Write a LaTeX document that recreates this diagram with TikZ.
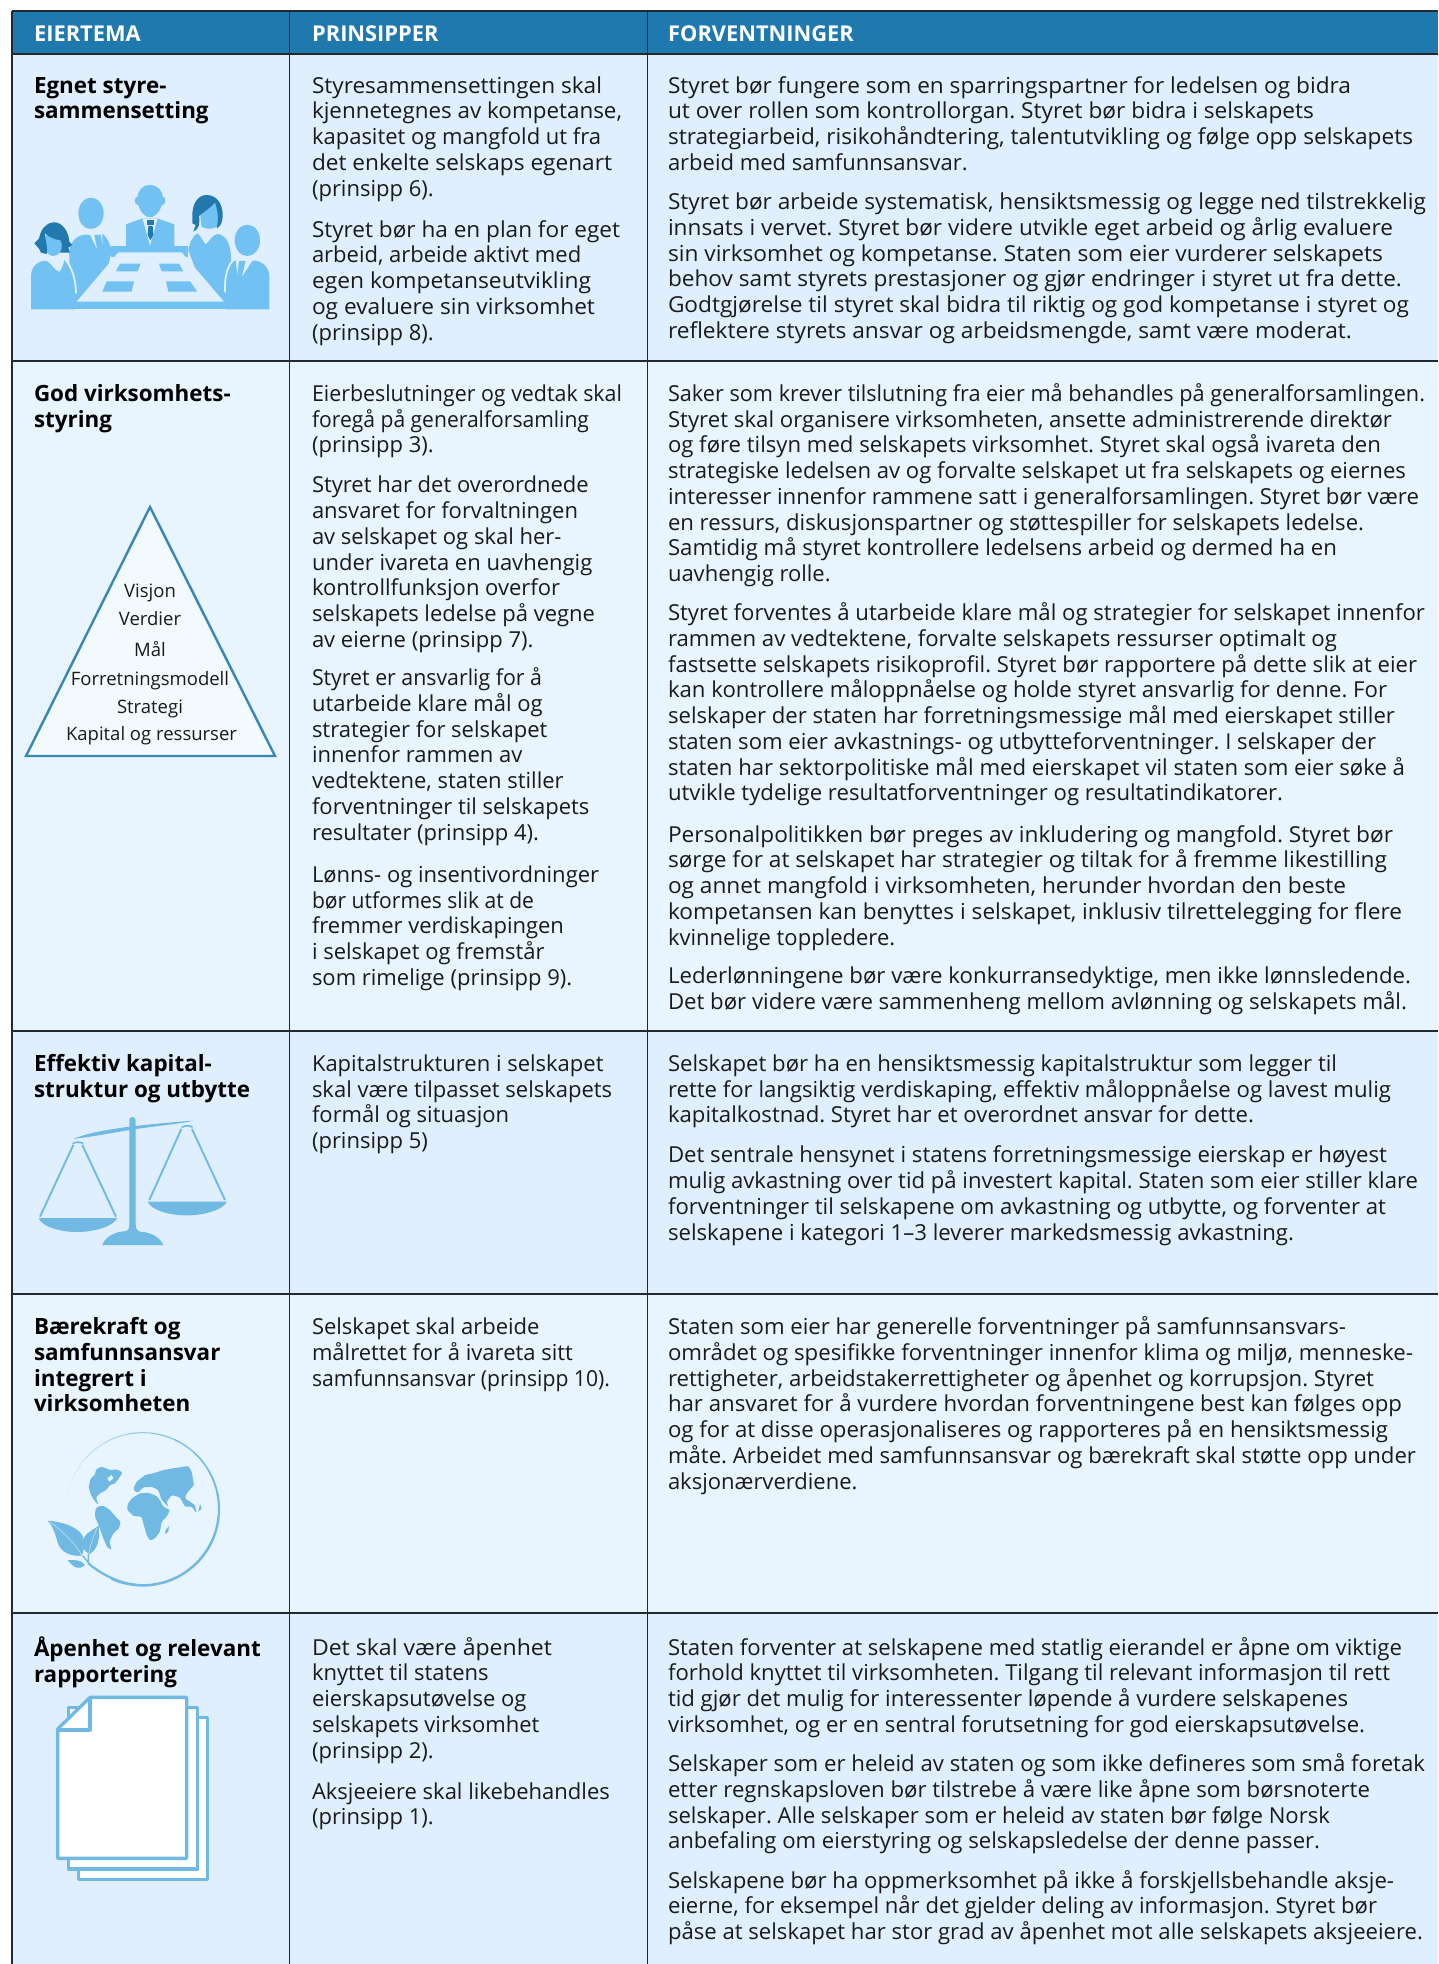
\documentclass[tikz,border=0pt]{standalone}
\usepackage{fontspec}
\setmainfont{Open Sans}
\frenchspacing
\definecolor{bgA}{HTML}{DFEFFD}
\definecolor{bgB}{HTML}{E8F5FE}
\definecolor{headblue}{HTML}{2079AE}
\definecolor{iconA}{HTML}{71C1F2}
\definecolor{iconB}{HTML}{6FB9E3}
\definecolor{icondark}{HTML}{2279AE}
\definecolor{tline}{HTML}{222A30}
\definecolor{inktext}{HTML}{1A1A1A}
\tikzset{
  body/.style={anchor=north west,inner sep=0pt,outer sep=0pt,align=left,text=inktext,font=\fontsize{22}{25.75}\selectfont\frenchspacing},
  lead/.style={body,font=\fontsize{22.4}{25.75}\selectfont\bfseries\frenchspacing,text=black},
  headtxt/.style={anchor=west,inner sep=0pt,text=white,font=\fontsize{21.8}{24}\selectfont\bfseries},
  pyr/.style={anchor=center,inner sep=0pt,text=inktext,font=\fontsize{18.5}{20}\selectfont},
  rule/.style={draw=tline,line width=1.4pt},
  zoomed/.style={x=0.33333pt,y=-0.33333pt},
  docpage/.style={draw=iconB,line width=3.3pt,fill=white,line join=round}
}
\newcommand{\pp}[5][body]{\node[#1] (#2) at ({#3},{(#4)*1.2526-10}) {\rule{0pt}{18pt}#5};}
\newcommand{\pyrt}[3]{\node[pyr] (#1) at (150,#2+1) {#3};}
% one line of the third / second column, fitted so that it ends at the given x
\newcommand{\fl}[2]{\resizebox{\dimexpr#1pt-668pt\relax}{\height}{#2}}
\newcommand{\fm}[2]{\resizebox{\dimexpr#1pt-312pt\relax}{\height}{#2}}
\begin{document}
\begin{tikzpicture}[x=1pt,y=-1pt]
\useasboundingbox (0,0) rectangle (1438,1964);
% backgrounds
\fill[white] (0,0) rectangle (1438,1964);
\fill[headblue] (12,11) rectangle (1438,54);
\fill[bgA] (12,54) rectangle (1438,361);
\fill[bgB] (12,361) rectangle (1438,1031);
\fill[bgA] (12,1031) rectangle (1438,1294);
\fill[bgB] (12,1294) rectangle (1438,1613);
\fill[bgA] (12,1613) rectangle (1438,1964);
% rules
\foreach \yy in {11,54,361,1031,1294,1613}{\draw[rule] (12,\yy) -- (1438,\yy);}
\foreach \xx in {12,289.5,647.5}{\draw[rule] (\xx,11) -- (\xx,1964);}
% header
\node[headtxt] (h1) at (34,34) {EIERTEMA};
\node[headtxt] (h2) at (312,34) {PRINSIPPER};
\node[headtxt] (h3) at (668,34) {FORVENTNINGER};
% row 1
\pp[lead]{a1}{34}{68}{Egnet styre-\\sammensetting}
\pp{b1a}{312}{68}{\fm{602}{Styresammensettingen skal}\\\fm{622}{kjennetegnes av kompetanse,}\\kapasitet og mangfold ut fra\\\fm{612}{det enkelte selskaps egenart}\\(prinsipp 6).}
\pp{b1b}{312}{183}{\fm{620}{Styret bør ha en plan for eget}\\arbeid, arbeide aktivt med\\\fm{591}{egen kompetanseutvikling}\\\fm{595}{og evaluere sin virksomhet}\\(prinsipp 8).}
\pp{c1a}{668}{68}{\fl{1351}{Styret bør fungere som en sparringspartner for ledelsen og bidra}\\\fl{1314}{ut over rollen som kontrollorgan. Styret bør bidra i selskapets}\\\fl{1413}{strategiarbeid, risikohåndtering, talentutvikling og følge opp selskapets}\\arbeid med samfunnsansvar.}
\pp{c1b}{668}{161}{\fl{1426}{Styret bør arbeide systematisk, hensiktsmessig og legge ned tilstrekkelig}\\\fl{1393}{innsats i vervet. Styret bør videre utvikle eget arbeid og årlig evaluere}\\\fl{1383}{sin virksomhet og kompetanse. Staten som eier vurderer selskapets}\\\fl{1402}{behov samt styrets prestasjoner og gjør endringer i styret ut fra dette.}\\\fl{1409}{Godtgjørelse til styret skal bidra til riktig og god kompetanse i styret og}\\\fl{1352}{reflektere styrets ansvar og arbeidsmengde, samt være moderat.}}
% row 2
\pp[lead]{a2}{34}{314}{God virksomhets-\\styring}
\pp{b2a}{312}{314}{\fm{622}{Eierbeslutninger og vedtak skal}\\\fm{589}{foregå på generalforsamling}\\(prinsipp 3).}
\pp{b2b}{312}{387}{Styret har det overordnede\\ansvaret for forvaltningen\\av selskapet og skal her-\\under ivareta en uavhengig\\kontrollfunksjon overfor\\selskapets ledelse på vegne\\av eierne (prinsipp 7).}
\pp{b2c}{312}{541}{\fm{542}{Styret er ansvarlig for å}\\utarbeide klare mål og\\strategier for selskapet\\innenfor rammen av\\vedtektene, staten stiller\\forventninger til selskapets\\resultater (prinsipp 4).}
\pp{b2d}{312}{698}{Lønns- og insentivordninger\\\fm{534}{bør utformes slik at de}\\fremmer verdiskapingen\\i selskapet og fremstår\\som rimelige (prinsipp 9).}
\pp{c2a}{668}{314}{\fl{1425}{Saker som krever tilslutning fra eier må behandles på generalforsamlingen.}\\\fl{1392}{Styret skal organisere virksomheten, ansette administrerende direktør}\\\fl{1381}{og føre tilsyn med selskapets virksomhet. Styret skal også ivareta den}\\\fl{1406}{strategiske ledelsen av og forvalte selskapet ut fra selskapets og eiernes}\\\fl{1419}{interesser innenfor rammene satt i generalforsamlingen. Styret bør være}\\\fl{1364}{en ressurs, diskusjonspartner og støttespiller for selskapets ledelse.}\\\fl{1337}{Samtidig må styret kontrollere ledelsens arbeid og dermed ha en}\\uavhengig rolle.}
\pp{c2b}{668}{489}{\fl{1425}{Styret forventes å utarbeide klare mål og strategier for selskapet innenfor}\\\fl{1337}{rammen av vedtektene, forvalte selskapets ressurser optimalt og}\\\fl{1417}{fastsette selskapets risikoprofil. Styret bør rapportere på dette slik at eier}\\\fl{1387}{kan kontrollere måloppnåelse og holde styret ansvarlig for denne. For}\\\fl{1395}{selskaper der staten har forretningsmessige mål med eierskapet stiller}\\\fl{1376}{staten som eier avkastnings- og utbytteforventninger. I selskaper der}\\\fl{1405}{staten har sektorpolitiske mål med eierskapet vil staten som eier søke å}\\\fl{1283}{utvikle tydelige resultatforventninger og resultatindikatorer.}}
\pp{c2c}{668}{666}{\fl{1393}{Personalpolitikken bør preges av inkludering og mangfold. Styret bør}\\\fl{1387}{sørge for at selskapet har strategier og tiltak for å fremme likestilling}\\\fl{1346}{og annet mangfold i virksomheten, herunder hvordan den beste}\\\fl{1402}{kompetansen kan benyttes i selskapet, inklusiv tilrettelegging for flere}\\kvinnelige toppledere.}
\pp{c2d}{668}{779}{\fl{1411}{Lederlønningene bør være konkurransedyktige, men ikke lønnsledende.}\\\fl{1407}{Det bør videre være sammenheng mellom avlønning og selskapets mål.}}
% row 3
\pp[lead]{a3}{34}{849}{Effektiv kapital-\\struktur og utbytte}
\pp{b3a}{312}{849}{Kapitalstrukturen i selskapet\\skal være tilpasset selskapets\\formål og situasjon\\(prinsipp 5)}
\pp{c3a}{668}{849}{\fl{1337}{Selskapet bør ha en hensiktsmessig kapitalstruktur som legger til}\\\fl{1391}{rette for langsiktig verdiskaping, effektiv måloppnåelse og lavest mulig}\\\fl{1254}{kapitalkostnad. Styret har et overordnet ansvar for dette.}}
\pp{c3b}{668}{922}{\fl{1387}{Det sentrale hensynet i statens forretningsmessige eierskap er høyest}\\\fl{1418}{mulig avkastning over tid på investert kapital. Staten som eier stiller klare}\\\fl{1386}{forventninger til selskapene om avkastning og utbytte, og forventer at}\\\fl{1294}{selskapene i kategori 1–3 leverer markedsmessig avkastning.}}
% row 4
\pp[lead]{a4}{34}{1059}{Bærekraft og\\samfunnsansvar\\integrert i\\virksomheten}
\pp{b4a}{312}{1059}{Selskapet skal arbeide\\målrettet for å ivareta sitt\\\fm{610}{samfunnsansvar (prinsipp 10).}}
\pp{c4a}{668}{1059}{\fl{1346}{Staten som eier har generelle forventninger på samfunnsansvars-}\\\fl{1413}{området og spesifikke forventninger innenfor klima og miljø, menneske-}\\\fl{1374}{rettigheter, arbeidstakerrettigheter og åpenhet og korrupsjon. Styret}\\\fl{1402}{har ansvaret for å vurdere hvordan forventningene best kan følges opp}\\\fl{1388}{og for at disse operasjonaliseres og rapporteres på en hensiktsmessig}\\\fl{1416}{måte. Arbeidet med samfunnsansvar og bærekraft skal støtte opp under}\\aksjonærverdiene.}
% row 5
\pp[lead]{a5}{34}{1315}{Åpenhet og relevant\\rapportering}
\pp{b5a}{312}{1315}{\fm{552}{Det skal være åpenhet}\\knyttet til statens\\eierskapsutøvelse og\\selskapets virksomhet\\(prinsipp 2).}
\pp{b5b}{312}{1430}{Aksjeeiere skal likebehandles\\(prinsipp 1).}
\pp{c5a}{668}{1315}{\fl{1402}{Staten forventer at selskapene med statlig eierandel er åpne om viktige}\\\fl{1390}{forhold knyttet til virksomheten. Tilgang til relevant informasjon til rett}\\\fl{1348}{tid gjør det mulig for interessenter løpende å vurdere selskapenes}\\\fl{1365}{virksomhet, og er en sentral forutsetning for god eierskapsutøvelse.}}
\pp{c5b}{668}{1408}{\fl{1425}{Selskaper som er heleid av staten og som ikke defineres som små foretak}\\\fl{1370}{etter regnskapsloven bør tilstrebe å være like åpne som børsnoterte}\\\fl{1330}{selskaper. Alle selskaper som er heleid av staten bør følge Norsk}\\\fl{1320}{anbefaling om eierstyring og selskapsledelse der denne passer.}}
\pp{c5c}{668}{1501}{\fl{1394}{Selskapene bør ha oppmerksomhet på ikke å forskjellsbehandle aksje-}\\\fl{1377}{eierne, for eksempel når det gjelder deling av informasjon. Styret bør}\\\fl{1423}{påse at selskapet har stor grad av åpenhet mot alle selskapets aksjeeiere.}}
% icon 1: board meeting
\begin{scope}[shift={(25,180)},zoomed]
 \fill[iconA] (258,197) rectangle (490,230);
 % centre person
 \fill[iconA] (375,15) .. controls (400,15) and (413,35) .. (413,50) .. controls (424,50) and (424,75) .. (410,76) .. controls (405,95) and (390,112) .. (375,112) .. controls (360,112) and (345,95) .. (340,76) .. controls (326,75) and (326,50) .. (338,50) .. controls (338,35) and (350,15) .. (375,15) -- cycle;
 \fill[iconA] (303,200) -- (303,133) -- (350,116) -- (400,116) -- (448,133) -- (448,200) -- cycle;
 \fill[bgA] (353,117) -- (375,197) -- (397,117) -- cycle;
 \fill[icondark] (366,120) rectangle (387,135);
 \fill[icondark] (370,138) -- (383,138) -- (385,165) -- (376,181) -- (368,165) -- cycle;
 % left man
 \fill[iconA] (198,100) ellipse [x radius=38,y radius=47];
 \fill[iconA] (133,345) -- (133,215) .. controls (135,180) and (165,158) .. (195,165) -- (217,210) -- (208,165) -- (228,165) -- (233,205) -- (232,160) .. controls (245,170) and (255,190) .. (260,212) -- (230,345) -- cycle;
 % right woman
 \fill[iconA] (490,210) .. controls (495,185) and (505,165) .. (518,160) .. controls (528,168) and (535,188) .. (543,193) .. controls (552,185) and (565,160) .. (580,162) .. controls (610,170) and (620,200) .. (618,260) -- (618,345) -- (540,345) -- cycle;
 \fill[iconA] (525,100) -- (570,68) -- (587,118) -- (575,140) .. controls (565,147) and (545,150) .. (530,140) -- cycle;
 \fill[icondark] (502,112) .. controls (500,70) and (520,45) .. (545,45) .. controls (580,45) and (595,80) .. (593,110) .. controls (592,130) and (585,140) .. (575,145) .. controls (582,115) and (578,90) .. (570,68) .. controls (555,85) and (535,97) .. (522,108) .. controls (526,130) and (522,148) .. (505,155) -- (512,135) -- (502,130) -- cycle;
 % right man
 \fill[iconA] (667,181) ellipse [x radius=38,y radius=47];
 \fill[iconA] (733,388) -- (733,285) .. controls (730,255) and (700,238) .. (682,243) -- (650,292) -- (662,243) -- (642,243) -- (637,287) -- (632,240) .. controls (610,250) and (602,290) .. (604,335) -- (604,388) -- cycle;
 \draw[bgA,line width=1.8pt] (630,238) .. controls (608,250) and (598,290) .. (600,337);
 % left woman
 \fill[iconA] (18,388) -- (18,285) .. controls (20,255) and (45,240) .. (65,243) .. controls (80,250) and (90,275) .. (103,275) .. controls (112,270) and (115,250) .. (118,240) .. controls (135,255) and (148,300) .. (148,345) -- (148,388) -- cycle;
 \draw[bgA,line width=1.8pt] (120,238) .. controls (140,258) and (153,300) .. (153,340);
 \fill[iconA] (85,190) ellipse [x radius=28,y radius=38];
 \fill[icondark] (28,190) -- (42,176) .. controls (47,150) and (60,130) .. (85,127) .. controls (115,125) and (132,160) .. (133,185) -- (142,195) -- (130,203) -- (135,218) -- (105,218) .. controls (115,200) and (110,185) .. (105,180) .. controls (90,180) and (70,170) .. (60,160) .. controls (60,180) and (70,205) .. (65,222) -- (48,218) -- (42,206) -- cycle;
 % table
 \fill[iconA] (18,365) rectangle (733,388);
 \fill[iconA] (148,345) rectangle (620,370);
 \fill[bgA] (280,217) -- (470,217) -- (597,365) -- (155,365) -- cycle;
 \fill[iconA] (285,251) -- (347,251) -- (338,274) -- (273,274) -- cycle;
 \fill[iconA] (402,251) -- (462,251) -- (475,274) -- (410,274) -- cycle;
 \fill[iconA] (245,304) -- (327,304) -- (320,335) -- (232,335) -- cycle;
 \fill[iconA] (423,304) -- (495,304) -- (517,335) -- (430,335) -- cycle;
\end{scope}
% icon 2: pyramid
\draw[draw=icondark!90!white,fill=white!45!bgB,line width=2.4pt,line join=miter] (150,507) -- (275,756) -- (26,756) -- cycle;
\pyrt{p1}{592}{Visjon}
\pyrt{p2}{618}{Verdier}
\pyrt{p3}{648}{Mål}
\pyrt{p4}{680}{Forretningsmodell}
\pyrt{p5}{708}{Strategi}
\pyrt{p6}{735}{\hspace*{3pt}Kapital og ressurser}
% icon 3: scales
\begin{scope}[shift={(20,1100)},zoomed]
 \fill[iconB] (247,435) .. controls (255,410) and (285,395) .. (320,393) .. controls (328,390) and (328,380) .. (328,370) -- (328,60) .. controls (328,48) and (347,48) .. (347,60) -- (347,370) .. controls (347,385) and (350,392) .. (360,395) .. controls (395,397) and (420,412) .. (430,435) -- cycle;
 \fill[iconB] (160,117) .. controls (220,90) and (350,75) .. (518,62) .. controls (500,70) and (380,80) .. (300,95) .. controls (240,105) and (200,112) .. (160,117) -- cycle;
 \fill[iconB] (56,354) -- (292,354) .. controls (280,380) and (220,396) .. (172,396) .. controls (120,396) and (65,380) .. (56,354) -- cycle;
 \fill[iconB] (383,305) -- (621,305) .. controls (605,332) and (550,346) .. (500,346) .. controls (450,346) and (395,332) .. (383,305) -- cycle;
 \draw[iconB,line width=1.9pt] (160,135) -- (60,350) (187,135) -- (288,350) (484,87) -- (388,300) (516,87) -- (615,300);
 \draw[iconB,line width=1.6pt] (158,131) .. controls (165,125) and (182,125) .. (190,131) (485,82) .. controls (495,76) and (510,76) .. (518,82);
\end{scope}
% icon 4: globe
\begin{scope}[shift={(20,1410)},zoomed]
 \foreach \st/\mx/\lw in {174/10/0.5,156/25/0.7,138/45/0.8,120/60/0.9,102/75/1.0,84/85/1.2,66/90/1.4,48/95/1.6,30/100/1.8,12/100/2.1,-6/100/2.4,-24/100/2.5,-42/100/2.5,-60/100/2.5,-78/100/2.5,-96/100/2.4}{
   \draw[iconB!\mx!bgB,line width=\lw pt] ({368+229*cos(\st)},{297-229*sin(\st)}) arc[start angle=-\st,end angle=-\st+18,radius=229];
 }
 \draw[iconB,line width=2.2pt] (352,525) .. controls (295,520) and (240,490) .. (205,460);
 \fill[iconB,rounded corners=1.2pt] (228,178) -- (245,170) -- (270,180) -- (290,178) -- (308,187) -- (300,200) -- (285,220) -- (270,225) -- (258,240) -- (240,250) -- (228,262) -- (235,285) -- (222,270) -- (213,255) -- (206,232) -- (212,205) -- (225,195) -- cycle;
 \fill[bgB] (262,205) -- (275,195) -- (280,205) -- (268,215) -- cycle;
 \fill[iconB,rounded corners=1.2pt] (232,290) -- (250,287) -- (270,300) -- (285,318) -- (302,335) -- (297,355) -- (280,370) -- (268,395) -- (275,420) -- (262,412) -- (250,385) -- (238,350) -- (225,320) -- (226,300) -- cycle;
 \fill[iconB,rounded corners=1.2pt] (322,285) -- (335,265) -- (360,250) -- (385,248) -- (410,258) -- (420,270) -- (430,290) -- (450,300) -- (440,320) -- (425,335) -- (420,365) -- (405,385) -- (390,392) -- (380,375) -- (370,340) -- (365,320) -- (340,318) -- (322,300) -- cycle;
 \fill[iconB,rounded corners=1.2pt] (345,245) -- (340,235) -- (350,215) -- (375,195) -- (400,190) -- (430,180) -- (460,175) -- (505,168) -- (515,185) -- (522,225) -- (500,250) -- (495,265) -- (525,285) -- (530,310) -- (515,290) -- (495,290) -- (480,262) -- (455,255) -- (440,275) -- (445,290) -- (425,270) -- (415,240) -- (395,230) -- (370,232) -- (355,247) -- cycle;
 \fill[iconB] (437,360) -- (447,348) -- (445,365) -- (435,372) -- cycle;
 \fill[iconB] (540,282) -- (545,295) -- (535,305) -- cycle;
 \draw[bgB,line width=0.8pt] (372,240) -- (408,238) (420,268) -- (445,296);
 \fill[iconB] (83,332) .. controls (130,335) and (185,355) .. (190,385) .. controls (195,410) and (190,430) .. (185,437) .. controls (150,440) and (120,425) .. (112,395) .. controls (105,365) and (95,345) .. (83,332) -- cycle;
 \fill[iconB] (237,347) .. controls (240,380) and (235,420) .. (208,432) .. controls (190,425) and (180,400) .. (195,378) .. controls (205,365) and (225,355) .. (237,347) -- cycle;
 \fill[iconB] (143,450) .. controls (160,450) and (185,448) .. (195,465) .. controls (180,480) and (160,475) .. (143,450) -- cycle;
 \draw[iconB,line width=1.4pt] (205,432) -- (205,462) (188,437) -- (212,466);
 \draw[bgB,line width=0.35pt] (88,335) .. controls (130,365) and (165,400) .. (185,435) (232,352) .. controls (220,380) and (210,410) .. (206,430);
\end{scope}
% icon 5: documents
\begin{scope}[shift={(20,1680)},zoomed]
 \draw[docpage] (175,112) rectangle (563,599);
 \draw[docpage] (145,82) rectangle (533,567);
 \draw[docpage] (113,147) -- (210,52) -- (500,52) -- (500,535) -- (113,535) -- cycle;
 \draw[docpage,fill=none] (210,52) -- (210,150) -- (113,150);
\end{scope}
\end{tikzpicture}
\end{document}
